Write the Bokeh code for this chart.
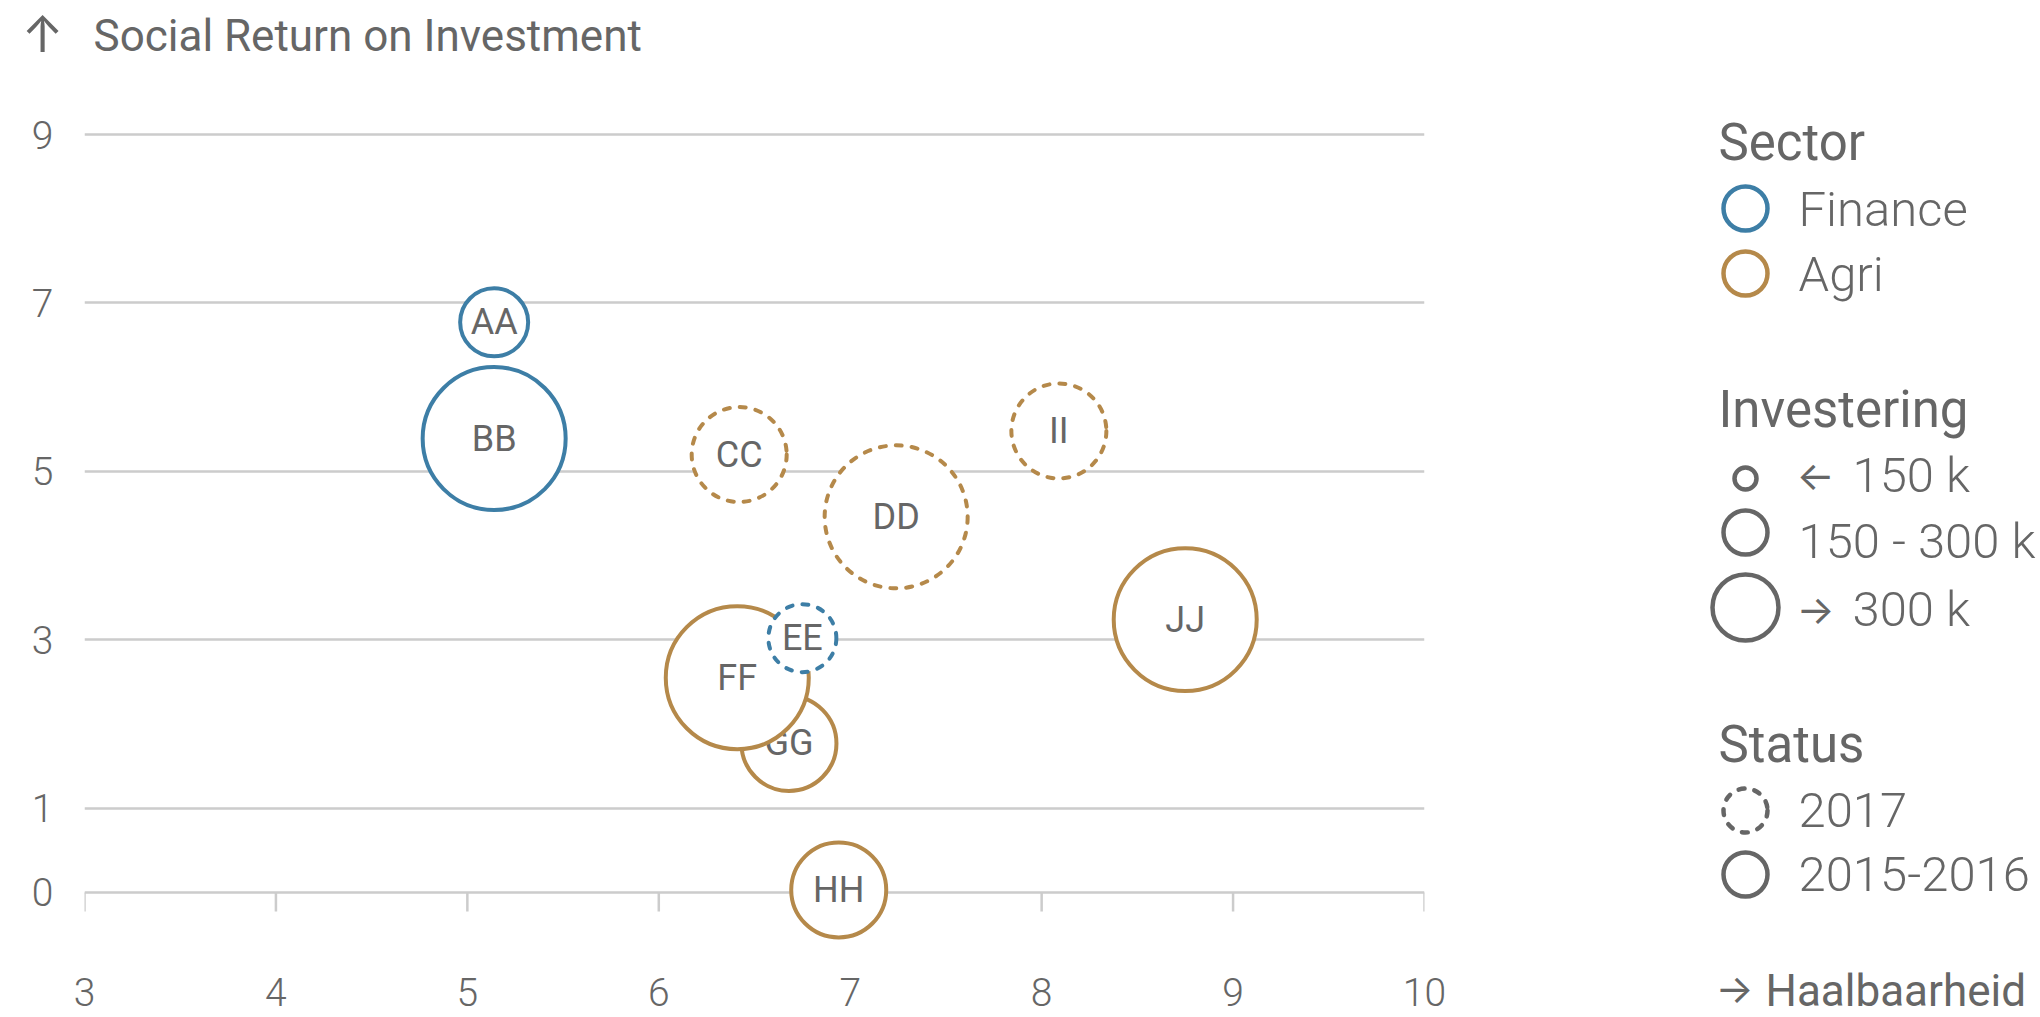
from bokeh.plotting import figure
from bokeh.models import Range1d, FixedTicker, ColumnDataSource
from bokeh.layouts import row, column
from bokeh.embed import file_html
from bokeh.resources import INLINE
from bokeh.core.properties import value

# ---------------- data ----------------
names = ["AA", "BB", "CC", "DD", "GG", "FF", "EE", "HH", "II", "JJ"]
haalbaarheid = [5.14, 5.14, 6.42, 7.24, 6.68, 6.41, 6.75, 6.94, 8.09, 8.75]
sroi = [6.77, 5.39, 5.20, 4.46, 1.77, 2.55, 3.02, 0.03, 5.48, 3.24]
sector = ["Finance", "Finance", "Agri", "Agri", "Agri", "Agri", "Finance", "Agri", "Agri", "Agri"]
investering = ["<150", ">300", "150-300", ">300", "150-300", ">300", "<150", "150-300", "150-300", ">300"]
status = ["2015-2016", "2015-2016", "2017", "2017", "2015-2016", "2015-2016", "2017", "2015-2016", "2017", "2015-2016"]

x_ticks = [3, 4, 5, 6, 7, 8, 9, 10]
y_ticks = [0, 1, 3, 5, 7, 9]

y_title = "Social Return on Investment"
x_title = "Haalbaarheid"
sector_labels = ["Finance", "Agri"]
size_keys = ["<150", "150-300", ">300"]
size_arrows = ["\u2190", "", "\u2192"]
size_labels = ["150 k", "150 - 300 k", "300 k"]
status_labels = ["2017", "2015-2016"]

# ---------------- styles ----------------
GRAY = "#666666"
GRID = "#cccccc"
sector_colors = {"Finance": "#3d7ea6", "Agri": "#b5894a"}
bubble_size = {"<150": 68, "150-300": 95, ">300": 143}
legend_size = {"<150": 22, "150-300": 44, ">300": 66}
status_dash = {"2017": "6 10", "2015-2016": "solid"}

FONT = "Roboto"
FONT_LIGHT = "Roboto Light"
ARROW_FONT = "Inter"

TOTAL_W = 2036
TOP_H = 70
MAIN_W = 1660
MAIN_H = 947
FW, FH = 1340, 880


def blank(w, h):
    f = figure(width=w, height=h, frame_width=w, frame_height=h,
               x_range=Range1d(0, w), y_range=Range1d(h, 0),
               min_border=0, title=None,
               x_axis_location=None, y_axis_location=None,
               output_backend="svg", toolbar_location=None)
    f.outline_line_color = None
    f.grid.visible = False
    f.background_fill_color = "white"
    f.border_fill_color = "white"
    return f


def txt(f, x, y, t, font, size, align="left"):
    f.text(x=[x], y=[y], text=[t], text_font=value(font), text_font_size=size,
           text_color=GRAY, text_baseline="middle", text_align=align)


# ---------------- title strip ----------------
top = blank(TOTAL_W, TOP_H)
txt(top, 42, 33, "\u2191", ARROW_FONT, "50px", align="center")
txt(top, 93, 35, y_title, FONT, "44px")

# ---------------- main chart ----------------
p = figure(width=MAIN_W, height=MAIN_H, frame_width=FW, frame_height=FH,
           x_range=Range1d(3, 10), y_range=Range1d(-0.689, 9.760),
           min_border_left=84, min_border_right=MAIN_W - 84 - FW,
           min_border_top=0, min_border_bottom=MAIN_H - FH, title=None,
           output_backend="svg", toolbar_location=None)
p.outline_line_color = None
p.background_fill_color = "white"
p.border_fill_color = "white"

p.xaxis.ticker = FixedTicker(ticks=x_ticks)
p.yaxis.ticker = FixedTicker(ticks=y_ticks)
for ax in (p.xaxis, p.yaxis):
    ax.axis_line_color = None
    ax.major_tick_line_color = None
    ax.minor_tick_line_color = None
    ax.major_label_text_font = FONT_LIGHT
    ax.major_label_text_font_size = "39px"
    ax.major_label_text_color = GRAY
p.xaxis.major_label_standoff = 21
p.yaxis.major_label_standoff = 25

p.xgrid.visible = False
p.ygrid.ticker = FixedTicker(ticks=y_ticks)
p.ygrid.grid_line_color = GRID
p.ygrid.grid_line_width = 2.5

# short tick marks under the zero line
tick_len = 0.226
p.segment(x0=x_ticks, y0=[0] * len(x_ticks), x1=x_ticks, y1=[-tick_len] * len(x_ticks),
          line_color=GRID, line_width=2.5)

for i in range(len(names)):
    src = ColumnDataSource(dict(x=[haalbaarheid[i]], y=[sroi[i]], name=[names[i]]))
    p.scatter("x", "y", source=src, marker="circle",
              size=bubble_size[investering[i]],
              fill_color="white", line_color=sector_colors[sector[i]],
              line_width=4, line_dash=status_dash[status[i]], line_cap="round")
    p.text("x", "y", text="name", source=src, text_align="center",
           text_baseline="middle", text_font=value(FONT),
           text_font_size="36px", text_color=GRAY)

# ---------------- legend panel ----------------
lg = blank(TOTAL_W - MAIN_W, MAIN_H)
HX, MX, TX, TX2 = 58, 85, 138, 192
HEAD, ITEM = "51px", "49px"

txt(lg, HX, 72, "Sector", FONT, HEAD)
for lab, my in zip(sector_labels, [138, 203]):
    lg.scatter(x=[MX], y=[my], marker="circle", size=44, fill_color="white",
               line_color=sector_colors[lab], line_width=4.5)
    txt(lg, TX, my + 1, lab, FONT_LIGHT, ITEM)

txt(lg, HX, 339, "Investering", FONT, HEAD)
for key, arr, lab, my, ty in zip(size_keys, size_arrows, size_labels,
                                 [408, 462, 537], [405, 471, 539]):
    lg.scatter(x=[MX], y=[my], marker="circle", size=legend_size[key], fill_color="white",
               line_color=GRAY, line_width=4.5)
    if arr:
        txt(lg, TX - 2, ty, arr, ARROW_FONT, "40px")
        txt(lg, TX2, ty, lab, FONT_LIGHT, ITEM)
    else:
        txt(lg, TX, ty, lab, FONT_LIGHT, ITEM)

txt(lg, HX, 674, "Status", FONT, HEAD)
for lab, my in zip(status_labels, [740, 804]):
    lg.scatter(x=[MX], y=[my], marker="circle", size=44, fill_color="white",
               line_color=GRAY, line_width=4.5, line_dash=status_dash[lab], line_cap="round")
    txt(lg, TX, my - 1, lab, FONT_LIGHT, ITEM)

txt(lg, 55, 918, "\u2192", ARROW_FONT, "40px")
txt(lg, 105, 920, x_title, FONT, "44px")

layout = column(top, row(p, lg))
open("out.html", "w").write(file_html(layout, INLINE))
